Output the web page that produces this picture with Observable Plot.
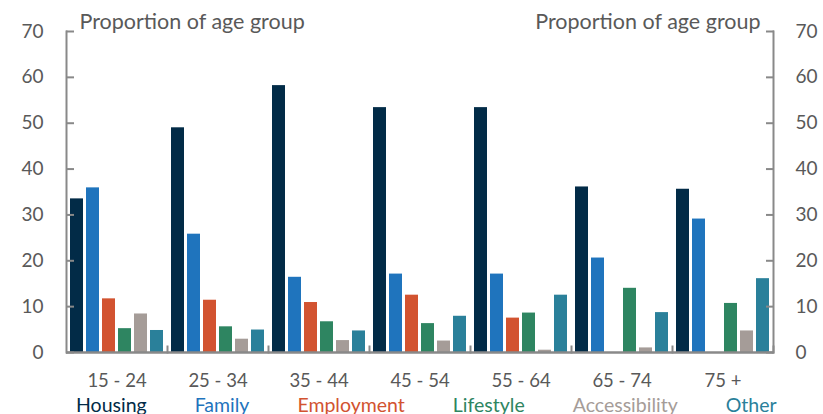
<!DOCTYPE html>
<html><head><meta charset="utf-8">
<script src="https://cdn.jsdelivr.net/npm/d3@7"></script>
<script src="https://cdn.jsdelivr.net/npm/@observablehq/plot@0.6"></script>
<style>
html,body{margin:0;padding:0;background:#fff;font-family:Lato,"Open Sans",sans-serif;}
#chart svg{display:block;}
#legend{display:flex;gap:48px;padding-left:76px;padding-top:2px;font-size:19.5px;line-height:22px;white-space:nowrap;}
</style></head><body><div id="chart"></div><div id="legend"></div>
<script>
const ageGroups = ["15 - 24","25 - 34","35 - 44","45 - 54","55 - 64","65 - 74","75 +"];
const series = ["Housing","Family","Employment","Lifestyle","Accessibility","Other"];
const colors = ["#022b47","#1f74bd","#d25330","#2e8561","#a59c98","#2a809a"];
const housing = [33.5,49.0,58.2,53.4,53.4,36.1,35.6];
const family = [35.9,25.8,16.4,17.1,17.1,20.6,29.1];
const employment = [11.7,11.4,10.9,12.5,7.5,0,0];
const lifestyle = [5.2,5.6,6.7,6.3,8.6,14.0,10.7];
const accessibility = [8.4,2.9,2.6,2.5,0.5,1.0,4.7];
const other = [4.8,4.9,4.7,7.9,12.5,8.7,16.1];
const yTicks = [0,10,20,30,40,50,60,70];
const axisTitle = "Proportion of age group";

const valuesBySeries = [housing, family, employment, lifestyle, accessibility, other];
const rows = [];
ageGroups.forEach((age, i) => {
  series.forEach((s, j) => rows.push({age, series: s, value: valuesBySeries[j][i]}));
});

const W = 823, H = 392;
const mt = 31, baseY = 352, ml = 63, mr = 48;
const inner = baseY - mt;
const gray = "#898989", textGray = "#595959";

const chart = Plot.plot({
  width: W, height: H,
  marginTop: mt, marginBottom: H - baseY, marginLeft: ml, marginRight: mr,
  style: {fontFamily: "Lato, 'Open Sans', sans-serif", fontSize: "19px", color: textGray, background: "white"},
  fx: {domain: ageGroups, padding: 0, label: null},
  x: {domain: series, axis: null, paddingInner: 0.21, paddingOuter: 0.18},
  y: {domain: [0, 70], axis: null},
  color: {domain: series, range: colors},
  marks: [
    Plot.barY(rows, {fx: "age", x: "series", y: "value", fill: "series"}),
    Plot.frame({anchor: "right", stroke: gray, strokeWidth: 2, insetTop: inner - 6}),
    Plot.frame({anchor: "left", stroke: gray, strokeWidth: 2, facetAnchor: "left"}),
    Plot.frame({anchor: "right", stroke: gray, strokeWidth: 2, facetAnchor: "right"}),
    Plot.ruleY([0], {stroke: gray, strokeWidth: 2.5}),
    Plot.axisY(yTicks, {anchor: "left", label: null, tickSize: -8, tickPadding: 31, stroke: gray, strokeWidth: 2, fill: textGray, fontSize: 19}),
    Plot.axisY(yTicks, {anchor: "right", label: null, tickSize: -8, tickPadding: 30, stroke: gray, strokeWidth: 2, fill: textGray, fontSize: 19}),
    Plot.axisFx({anchor: "bottom", tickSize: 0, tickPadding: 21, fill: textGray, fontSize: 18.5, label: null}),
    Plot.text([axisTitle], {frameAnchor: "top-left", facetAnchor: "left", dx: 13, dy: -9, lineAnchor: "middle", textAnchor: "start", fill: textGray, fontSize: 21.5}),
    Plot.text([axisTitle], {frameAnchor: "top-right", facetAnchor: "right", dx: -13, dy: -9, lineAnchor: "middle", textAnchor: "end", fill: textGray, fontSize: 21.5})
  ]
});
document.getElementById("chart").appendChild(chart);

const legend = document.getElementById("legend");
series.forEach((s, j) => {
  const span = document.createElement("span");
  span.textContent = s;
  span.style.color = colors[j];
  legend.appendChild(span);
});
</script></body></html>
